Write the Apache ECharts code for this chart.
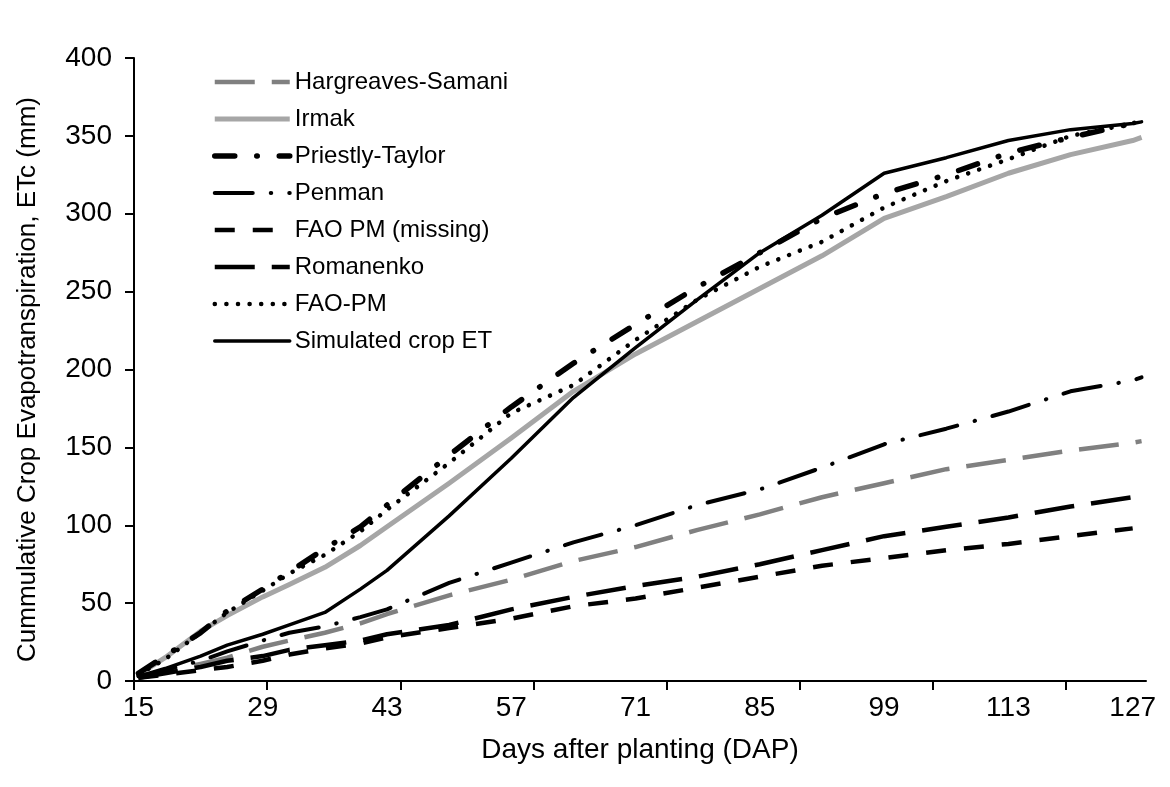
<!DOCTYPE html>
<html>
<head>
<meta charset="utf-8">
<script src="https://cdn.jsdelivr.net/npm/echarts@6/dist/echarts.min.js"></script>
<style>
  html, body { margin: 0; padding: 0; background: #fff; }
  #chart { width: 1170px; height: 787px; }
</style>
</head>
<body>
<div id="chart"></div>
<script>
const days = [15, 18, 22, 25, 29, 32, 36, 40, 43, 50, 57, 64, 71, 78, 85, 92, 99, 106, 113, 120, 127, 128];

// Cumulative ETc (mm) per method
const hargreaves = [2, 6, 11, 15, 22, 26, 31, 37, 43, 55, 65, 77, 86, 97, 107, 118, 127, 136, 142, 148, 153, 154];
const irmak = [4, 15, 32, 42, 54, 62, 73, 87, 99, 127, 156, 186, 210, 231, 252, 273, 297, 311, 326, 338, 347, 349];
const priestlyTaylor = [5, 16, 31, 45, 59, 70, 85, 99, 113, 145, 176, 204, 229, 253, 275, 297, 313, 325, 339, 349, 358, 361];
const penman = [3, 7, 13, 19, 26, 31, 35, 41, 46, 63, 76, 89, 100, 113, 123, 137, 152, 162, 173, 186, 193, 195];
const faoMissing = [2, 4, 7, 9, 13, 17, 21, 24, 28, 34, 40, 48, 53, 60, 67, 74, 79, 84, 88, 93, 98];
const romanenko = [2, 5, 9, 13, 16, 20, 23, 26, 30, 36, 46, 54, 61, 67, 75, 84, 93, 99, 105, 112, 118, 119];
const faoPM = [4, 14, 31, 44, 58, 69, 81, 96, 110, 140, 172, 190, 219, 245, 266, 282, 304, 321, 335, 350, 358, 360];
const simulated = [3, 8, 16, 23, 30, 36, 44, 59, 71, 106, 143, 182, 214, 245, 275, 299, 326, 336, 347, 354, 358, 359];

// Axis labels and tick marks (the original has ticks every 15 days, labels every 14)
const xLabels = [15, 29, 43, 57, 71, 85, 99, 113, 127];
const xTicks = [14.5, 29.5, 44.5, 59.5, 74.5, 89.5, 104.5, 119.5];

const FONT = '"Liberation Sans", Arial, sans-serif';

const seriesDefs = [
  { name: 'Hargreaves-Samani', values: hargreaves, color: '#808080', width: 4.5, dash: [40, 17], cap: 'butt' },
  { name: 'Irmak', values: irmak, color: '#a6a6a6', width: 5, dash: 'solid', cap: 'butt' },
  { name: 'Priestly-Taylor', values: priestlyTaylor, color: '#000', width: 5.5, dash: [20, 22, 0.5, 22], cap: 'round' },
  { name: 'Penman', values: penman, color: '#000', width: 4, dash: [38, 18, 0.5, 18], cap: 'round' },
  { name: 'FAO PM (missing)', values: faoMissing, color: '#000', width: 4.5, dash: [20, 18], cap: 'butt' },
  { name: 'Romanenko', values: romanenko, color: '#000', width: 4.5, dash: [40, 17], cap: 'butt' },
  { name: 'FAO-PM', values: faoPM, color: '#000', width: 4.5, dash: [0.1, 11.5], cap: 'round' },
  { name: 'Simulated crop ET', values: simulated, color: '#000', width: 3.5, dash: 'solid', cap: 'round' }
];

function lineStyleOf(d) {
  return { color: d.color, width: d.width, type: d.dash, cap: d.cap, join: 'round', opacity: 1 };
}

const chart = echarts.init(document.getElementById('chart'), null, { renderer: 'canvas' });

chart.setOption({
  animation: false,
  backgroundColor: '#fff',
  textStyle: { fontFamily: FONT, color: '#000' },
  grid: { left: 134, right: 24, top: 58, bottom: 106 },
  legend: {
    orient: 'vertical',
    left: 207,
    top: 64,
    itemWidth: 75,
    itemHeight: 14,
    itemGap: 11,
    textStyle: { fontFamily: FONT, fontSize: 24, color: '#000', lineHeight: 26 },
    lineStyle: { width: 'inherit', type: 'inherit', cap: 'inherit', color: 'inherit' },
    // hide the marker that ECharts puts in the middle of a line legend icon
    data: seriesDefs.map((d) => ({
      name: d.name,
      lineStyle: lineStyleOf(d),
      itemStyle: { opacity: 0, borderWidth: 0 }
    }))
  },
  xAxis: {
    type: 'value',
    min: 14.5,
    max: 128.5,
    name: 'Days after planting (DAP)',
    nameLocation: 'middle',
    nameGap: 55,
    nameTextStyle: { fontFamily: FONT, fontSize: 28, color: '#000' },
    splitLine: { show: false },
    axisLine: { show: true, lineStyle: { color: '#000', width: 2 } },
    axisTick: { show: true, customValues: xTicks, length: 9, lineStyle: { color: '#000', width: 2 } },
    axisLabel: { customValues: xLabels, fontSize: 28, color: '#000', margin: 13, fontFamily: FONT }
  },
  yAxis: {
    type: 'value',
    min: 0,
    max: 400,
    interval: 50,
    name: 'Cummulative Crop Evapotranspiration, ETc (mm)',
    nameLocation: 'middle',
    nameGap: 93,
    nameTextStyle: { fontFamily: FONT, fontSize: 26, color: '#000', padding: [0, 20, 0, 0] },
    splitLine: { show: false },
    axisLine: { show: true, lineStyle: { color: '#000', width: 2 } },
    axisTick: { show: true, length: 9, lineStyle: { color: '#000', width: 2 } },
    axisLabel: { fontSize: 28, color: '#000', margin: 22, fontFamily: FONT }
  },
  series: seriesDefs.map((d) => ({
    name: d.name,
    type: 'line',
    symbol: 'none',
    showSymbol: false,
    smooth: false,
    lineStyle: lineStyleOf(d),
    itemStyle: { color: d.color },
    data: d.values.map((v, i) => [days[i], v])
  }))
});

window.addEventListener('resize', () => chart.resize());
</script>
</body>
</html>
